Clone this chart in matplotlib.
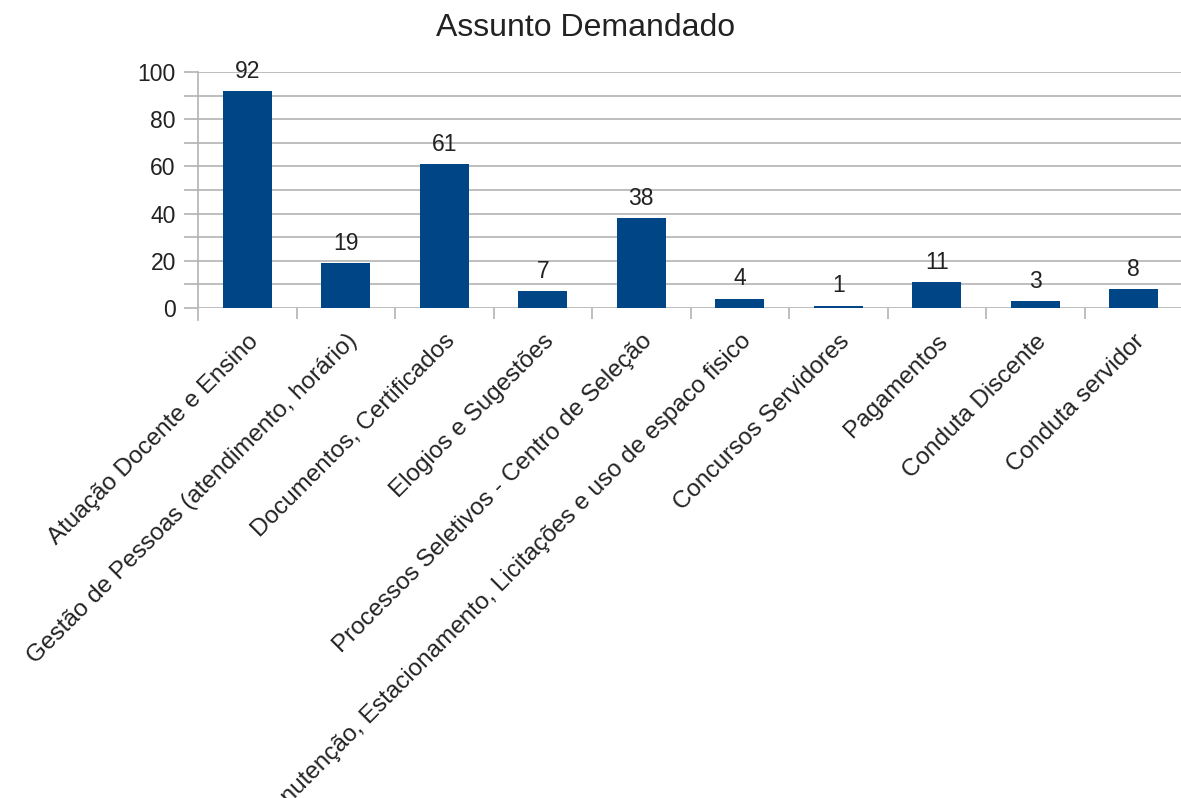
import matplotlib.pyplot as plt
from matplotlib.ticker import MultipleLocator, FixedLocator

plt.rcParams['font.family'] = ['Liberation Sans', 'DejaVu Sans']

assuntos = [
    "Atuação Docente e Ensino",
    "Gestão de Pessoas (atendimento, horário)",
    "Documentos, Certificados",
    "Elogios e Sugestões",
    "Processos Seletivos - Centro de Seleção",
    "Manutenção, Estacionamento, Licitações e uso de espaco fisico",
    "Concursos Servidores",
    "Pagamentos",
    "Conduta Discente",
    "Conduta servidor",
]
quantidade = [92, 19, 61, 7, 38, 4, 1, 11, 3, 8]

azul = "#004586"
cinza = "#b3b3b3"

fig = plt.figure(figsize=(11.81, 7.98), dpi=100)
ax = fig.add_axes([198 / 1181, 1 - 308 / 798, 985 / 1181, 236 / 798])

pos = list(range(len(assuntos)))
barras = ax.bar(pos, quantidade, width=0.5, color=azul, zorder=3)
for b, v in zip(barras, quantidade):
    ax.annotate(str(v), (b.get_x() + b.get_width() / 2, v), xytext=(0, 6),
                textcoords="offset points", ha="center", va="bottom",
                fontsize=16.5, color="#222222")

ax.set_xlim(-0.5, len(assuntos) - 0.5)
ax.set_ylim(0, 100)
ax.yaxis.set_major_locator(MultipleLocator(20))
ax.yaxis.set_minor_locator(MultipleLocator(10))
ax.grid(axis="y", which="both", color=cinza, linewidth=1.2, zorder=0)

# rótulos das categorias inclinados
ax.set_xticks(pos)
ax.set_xticklabels(assuntos, rotation=45, ha="right", va="top",
                   rotation_mode="anchor", fontsize=17.5, color="#222222")
ax.tick_params(axis="x", length=0, pad=16)
ax.xaxis.set_minor_locator(FixedLocator([p + 0.5 for p in pos[:-1]]))
ax.tick_params(axis="x", which="minor", length=8, color=cinza, width=1.2)

ax.tick_params(axis="y", which="both", length=10, color=cinza, width=1.2,
               labelsize=16.5, labelcolor="#222222", pad=6)

for lado in ["top", "right", "bottom"]:
    ax.spines[lado].set_visible(False)
ax.spines["left"].set_color(cinza)
ax.spines["left"].set_linewidth(1.2)
ax.spines["left"].set_bounds(-5, 100)

fig.text(0.496, 1 - 28 / 798, "Assunto Demandado", ha="center", va="center",
         fontsize=23, color="#222222")

fig.savefig("out.png", dpi=100)
